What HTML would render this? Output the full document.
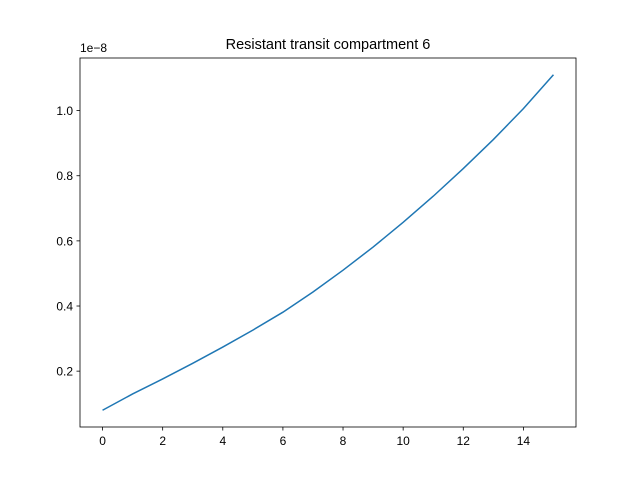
<!DOCTYPE html>
<html><head><meta charset="utf-8"><style>
body{margin:0;background:#fff;}
svg{display:block;font-family:"Liberation Sans","DejaVu Sans",sans-serif;}
</style></head><body>
<svg id="chart" width="640" height="480">
<rect x="0" y="0" width="640" height="480" fill="#fff"/>
<text x="328" y="49" text-anchor="middle" font-size="14.5">Resistant transit compartment 6</text>
<text x="80" y="52" font-size="12">1e−8</text>
<g id="xticks"></g>
<g id="yticks"></g>
<path id="line" fill="none" stroke="#1f77b4" stroke-width="1.5"/>
<rect x="80" y="58" width="496" height="369" fill="none" stroke="#000" stroke-width="0.8"/>
</svg>
<script>
const xValues=[0,1,2,3,4,5,6,7,8,9,10,11,12,13,14,15];
const yValues=[0.080,0.130,0.176,0.224,0.274,0.326,0.381,0.443,0.510,0.581,0.657,0.737,0.822,0.911,1.006,1.110];
const xTickLabels=["0","2","4","6","8","10","12","14"];
const yTickLabels=["0.2","0.4","0.6","0.8","1.0"];
const L=80,R=576,T=58,B=427;
const xmin=Math.min(...xValues),xmax=Math.max(...xValues);
const ymin=Math.min(...yValues),ymax=Math.max(...yValues);
const x0=xmin-(xmax-xmin)*0.05,x1=xmax+(xmax-xmin)*0.05;
const y0=ymin-(ymax-ymin)*0.05,y1=ymax+(ymax-ymin)*0.05;
function sx(v){return L+(v-x0)/(x1-x0)*(R-L);}
function sy(v){return B-(v-y0)/(y1-y0)*(B-T);}
const NS="http://www.w3.org/2000/svg";
let d="";
xValues.forEach((x,i)=>{d+=(i?"L":"M")+sx(x).toFixed(2)+","+sy(yValues[i]).toFixed(2);});
document.getElementById("line").setAttribute("d",d);
const gx=document.getElementById("xticks");
xTickLabels.forEach(l=>{const v=parseFloat(l),px=sx(v);
const t=document.createElementNS(NS,"line");t.setAttribute("x1",px);t.setAttribute("x2",px);t.setAttribute("y1",B);t.setAttribute("y2",B+3.5);t.setAttribute("stroke","#000");t.setAttribute("stroke-width","0.8");


gx.appendChild(t);
const tx=document.createElementNS(NS,"text");tx.setAttribute("x",px);tx.setAttribute("y",B+18);tx.setAttribute("text-anchor","middle");tx.setAttribute("font-size","12");tx.textContent=l;


gx.appendChild(tx);});
const gy=document.getElementById("yticks");
yTickLabels.forEach(l=>{const v=parseFloat(l),py=sy(v);
const t=document.createElementNS(NS,"line");t.setAttribute("x1",L-3.5);t.setAttribute("x2",L);t.setAttribute("y1",py);t.setAttribute("y2",py);t.setAttribute("stroke","#000");t.setAttribute("stroke-width","0.8");


gy.appendChild(t);
const tx=document.createElementNS(NS,"text");tx.setAttribute("x",L-7);tx.setAttribute("y",py+4.5);tx.setAttribute("text-anchor","end");tx.setAttribute("font-size","12");tx.textContent=l;


gy.appendChild(tx);});
</script>
</body></html>
